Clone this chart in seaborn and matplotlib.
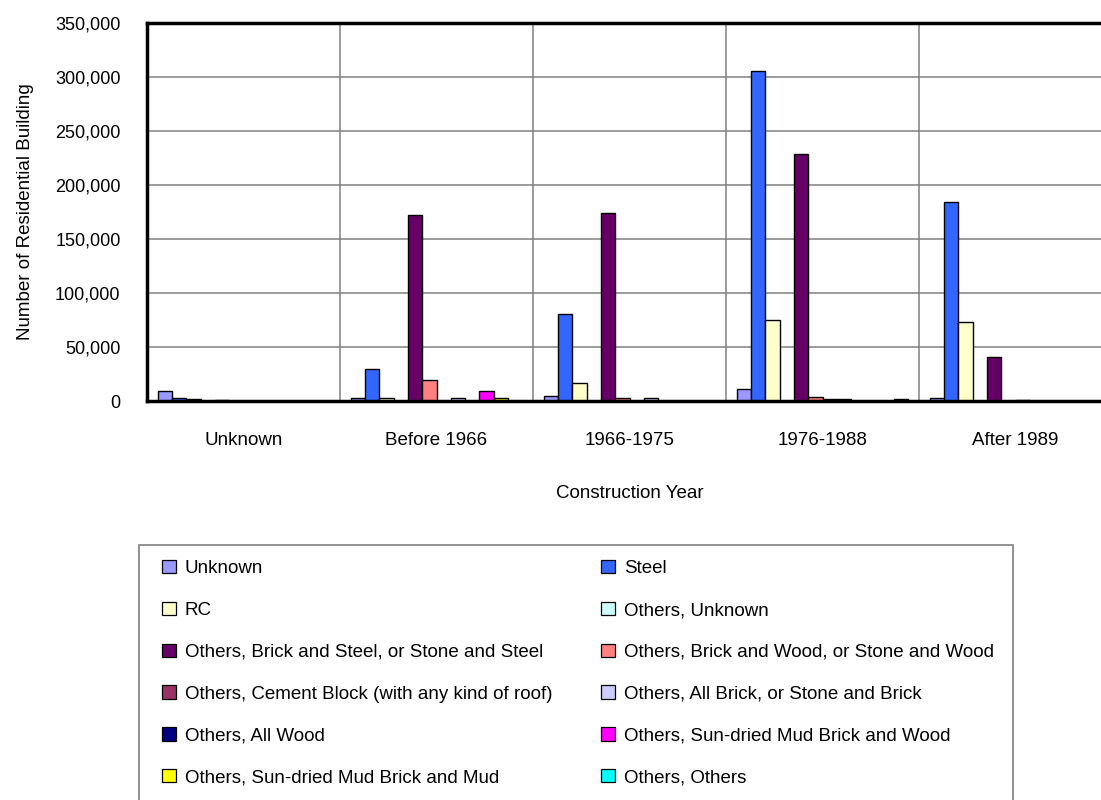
import matplotlib
matplotlib.use("Agg")
import matplotlib.pyplot as plt
from matplotlib.patches import Patch, Rectangle
from matplotlib.ticker import FuncFormatter, MultipleLocator, FixedLocator
import seaborn as sns
import pandas as pd

# Construction periods (x categories)
years = ["Unknown", "Before 1966", "1966-1975", "1976-1988", "After 1989"]

# Structure types (bar series)
types = [
    "Unknown",
    "Steel",
    "RC",
    "Others, Unknown",
    "Others, Brick and Steel, or Stone and Steel",
    "Others, Brick and Wood, or Stone and Wood",
    "Others, Cement Block (with any kind of roof)",
    "Others, All Brick, or Stone and Brick",
    "Others, All Wood",
    "Others, Sun-dried Mud Brick and Wood",
    "Others, Sun-dried Mud Brick and Mud",
    "Others, Others",
]

colors = [
    "#9999FF", "#3366FF", "#FFFFCC", "#CCFFFF", "#660066", "#FF8080",
    "#993366", "#CCCCFF", "#000080", "#FF00FF", "#FFFF00", "#00FFFF",
]

# Number of residential buildings per structure type, one list per period
v_unknown = [9000, 3000, 1500, 0, 1200, 0, 0, 0, 0, 0, 0, 0]
v_before_1966 = [3000, 29500, 3000, 0, 172000, 19500, 0, 3000, 0, 9500, 3000, 0]
v_1966_1975 = [5000, 80500, 16500, 0, 174000, 3000, 0, 3000, 0, 0, 0, 0]
v_1976_1988 = [10800, 305500, 75000, 0, 228500, 3400, 1500, 1500, 0, 0, 0, 1500]
v_after_1989 = [3000, 184000, 73500, 0, 40500, 0, 1200, 0, 0, 0, 0, 0]

series_by_year = [v_unknown, v_before_1966, v_1966_1975, v_1976_1988, v_after_1989]

rows = []
for yr, vals in zip(years, series_by_year):
    for t, v in zip(types, vals):
        rows.append({"Construction Year": yr, "Type": t, "Count": v})
df = pd.DataFrame(rows)

sns.set_theme(style="white")
plt.rcParams["font.family"] = ["Liberation Sans", "DejaVu Sans"]
plt.rcParams["text.color"] = "black"
plt.rcParams["axes.labelcolor"] = "black"
plt.rcParams["xtick.color"] = "black"
plt.rcParams["ytick.color"] = "black"

W, H = 1101, 800
fig = plt.figure(figsize=(W / 100, H / 100), dpi=100)
fig.patch.set_facecolor("white")

# plot area (pixel box converted to figure fractions)
left, top, right, bottom = 147, 23, 1112, 401
ax = fig.add_axes([left / W, 1 - bottom / H, (right - left) / W, (bottom - top) / H])

sns.barplot(
    data=df, x="Construction Year", y="Count", hue="Type",
    order=years, hue_order=types, palette=colors,
    width=0.889, saturation=1, errorbar=None,
    edgecolor="black", linewidth=1.0, legend=False, ax=ax,
)

ax.set_xlim(-0.5, len(years) - 0.5)
ax.set_ylim(0, 350000)
ax.yaxis.set_major_locator(MultipleLocator(50000))
ax.yaxis.set_major_formatter(FuncFormatter(lambda v, p: f"{int(v):,}"))

# horizontal gridlines at major y ticks, vertical separators between periods
ax.grid(axis="y", color="#808080", linewidth=1.1)
ax.xaxis.set_minor_locator(FixedLocator([i + 0.5 for i in range(len(years) - 1)]))
ax.grid(axis="x", which="minor", color="#808080", linewidth=1.1)
ax.grid(axis="x", which="major", visible=False)
ax.set_axisbelow(True)

for side in ["left", "top", "bottom"]:
    ax.spines[side].set_color("black")
    ax.spines[side].set_linewidth(2.5)
ax.spines["right"].set_visible(False)

ax.tick_params(axis="both", which="both", length=0)
ax.tick_params(axis="x", pad=22, labelsize=13.5)
ax.tick_params(axis="y", pad=19, labelsize=13)

ax.set_xlabel("Construction Year", fontsize=13.5, labelpad=26)
ax.set_ylabel("Number of Residential Building", fontsize=13.5, labelpad=15.5)

# legend frame
fig.patches.append(Rectangle((139 / W, 1 - 812 / H), (1013 - 139) / W, (812 - 545) / H,
                             transform=fig.transFigure, facecolor="white",
                             edgecolor="#808080", linewidth=1.2, zorder=0))

handles = [Patch(facecolor=c, edgecolor="black", linewidth=0.9) for c in colors]
legend_kw = dict(frameon=False, loc="upper left", fontsize=13.5, borderpad=0,
                 handlelength=0.72, handleheight=0.72, handletextpad=0.5,
                 labelspacing=1.31, borderaxespad=0)
fig.legend([handles[i] for i in range(0, 12, 2)], [types[i] for i in range(0, 12, 2)],
           bbox_to_anchor=(162 / W, 1 - 560 / H), **legend_kw)
fig.legend([handles[i] for i in range(1, 12, 2)], [types[i] for i in range(1, 12, 2)],
           bbox_to_anchor=(601 / W, 1 - 560 / H), **legend_kw)

fig.savefig("out.png", dpi=100, facecolor="white")
